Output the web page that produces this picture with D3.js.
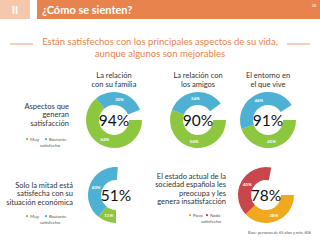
<!DOCTYPE html>
<html><head><meta charset="utf-8">
<script src="https://cdn.jsdelivr.net/npm/d3@7"></script>
<style>html,body{margin:0;padding:0;background:#fff;}svg{display:block;font-family:Lato,"Open Sans",sans-serif;}</style>
</head><body>
<script>
const headerTitle = "¿Cómo se sienten?";
const subtitleLines = ["Están satisfechos con los principales aspectos de su vida,", "aunque algunos son mejorables"];
const donutTitles = [["La relación","con su familia"],["La relación con","los amigos"],["El entorno en","el que vive"],[],[]];
const totalLabels = ["94%","90%","91%","51%","78%"];
const seriesFirst = [64,56,45,11,38];   // Muy satisfecho / Poco satisfecho
const seriesSecond = [30,34,46,40,40];  // Bastante satisfecho / Nada satisfecho
const sideTexts = [["Aspectos que","generan","satisfacción"],["Solo la mitad está","satisfecha con su","situación económica"],["El estado actual de la","sociedad española les","preocupa y les","genera insatisfacción"]];
const legendA = ["Muy","Bastante","satisfecho"];
const legendB = ["Poco","Nada","satisfecho"];
const footnote = "Base: personas de 65 años y más: 606";

const W=320,H=240;
const svg=d3.select("body").append("svg").attr("width",W).attr("height",H);
const orange="#e8834e";
// header
svg.append("rect").attr("x",0).attr("y",0).attr("width",30).attr("height",19).attr("fill","#f5c8ae");
svg.append("text").attr("x",15).attr("y",14).attr("text-anchor","middle").attr("fill","#fff").attr("font-weight","bold").attr("font-size",11).text("II");
svg.append("rect").attr("x",37).attr("y",0).attr("width",283).attr("height",19).attr("fill",orange);
svg.append("text").attr("x",42).attr("y",14).attr("fill","#fff").attr("font-weight","bold").attr("font-size",11).text(headerTitle);
svg.append("text").attr("x",314).attr("y",7).attr("text-anchor","middle").attr("fill","#fff").attr("font-size",4).text("24");
// subtitle
subtitleLines.forEach((t,i)=>svg.append("text").attr("x",160).attr("y",45+i*12).attr("text-anchor","middle").attr("fill",orange).attr("font-size",9.5).text(t));
[[10,33],[287,310]].forEach(([a,b])=>svg.append("line").attr("x1",a).attr("x2",b).attr("y1",44).attr("y2",44).attr("stroke",orange).attr("stroke-width",0.8));

const centers=[[114,120],[198,120],[268,120],[116,195],[266,195]];
const starts=[90,90,90,180,90];
const colorsA=["#8dc63f","#8dc63f","#8dc63f","#8dc63f","#f0a81c"];
const colorsB=["#4eb0d2","#4eb0d2","#4eb0d2","#4eb0d2","#c9474a"];
const rO=28,rI=15;
const arc=d3.arc().innerRadius(rI).outerRadius(rO);
const labArc=d3.arc().innerRadius(21.5).outerRadius(21.5);
totalLabels.forEach((lab,i)=>{
  const g=svg.append("g").attr("transform",`translate(${centers[i]})`);
  const vals=[seriesFirst[i],seriesSecond[i]];
  const s=starts[i]*Math.PI/180;
  const tot=d3.sum(vals);
  const pie=d3.pie().sort(null).startAngle(s).endAngle(s+2*Math.PI*tot/100);
  const arcs=pie(vals);
  g.selectAll("path").data(arcs).join("path").attr("d",arc).attr("fill",(d,j)=>j?colorsB[i]:colorsA[i]);
  g.selectAll("text.p").data(arcs).join("text").attr("class","p").attr("transform",d=>`translate(${labArc.centroid(d)})`)
    .attr("text-anchor","middle").attr("dy","0.35em").attr("fill","#fff").attr("font-size",4.5).attr("font-weight","bold").text(d=>d.data+"%");
  g.append("text").attr("text-anchor","middle").attr("dy","0.36em").attr("fill","#111").attr("font-size",15.5).text(lab);
  const tl=donutTitles[i];
  tl.forEach((t,k)=>svg.append("text").attr("x",centers[i][0]).attr("y",77.5+k*9).attr("text-anchor","middle").attr("fill","#333").attr("font-size",7.5).text(t));
});
// side texts
const sidePos=[[69,108.5],[73,187.5],[226,178.5]];
sideTexts.forEach((lines,i)=>lines.forEach((t,k)=>svg.append("text").attr("x",sidePos[i][0]).attr("y",sidePos[i][1]+k*8.6).attr("text-anchor","end").attr("fill","#333").attr("font-size",7.5).text(t)));
// legends
function legend(x,y,labels,cA,cB,dx2){
  svg.append("circle").attr("cx",x).attr("cy",y-1.4).attr("r",1.2).attr("fill",cA);
  svg.append("text").attr("x",x+3).attr("y",y).attr("font-size",4.5).attr("fill","#555").text(labels[0]);
  svg.append("circle").attr("cx",x+dx2).attr("cy",y-1.4).attr("r",1.2).attr("fill",cB);
  svg.append("text").attr("x",x+dx2+3).attr("y",y).attr("font-size",4.5).attr("fill","#555").text(labels[1]);
  svg.append("text").attr("x",x+dx2-6).attr("y",y+6.3).attr("font-size",4.5).attr("fill","#555").text(labels[2]);
}
legend(27,140.5,legendA,"#8dc63f","#4eb0d2",19);
legend(27,217.5,legendA,"#8dc63f","#4eb0d2",19);
legend(190,216.5,legendB,"#f0a81c","#c9474a",17);
svg.append("text").attr("x",311).attr("y",234).attr("text-anchor","end").attr("font-size",3.8).attr("fill","#555").text(footnote);
</script>
</body></html>
